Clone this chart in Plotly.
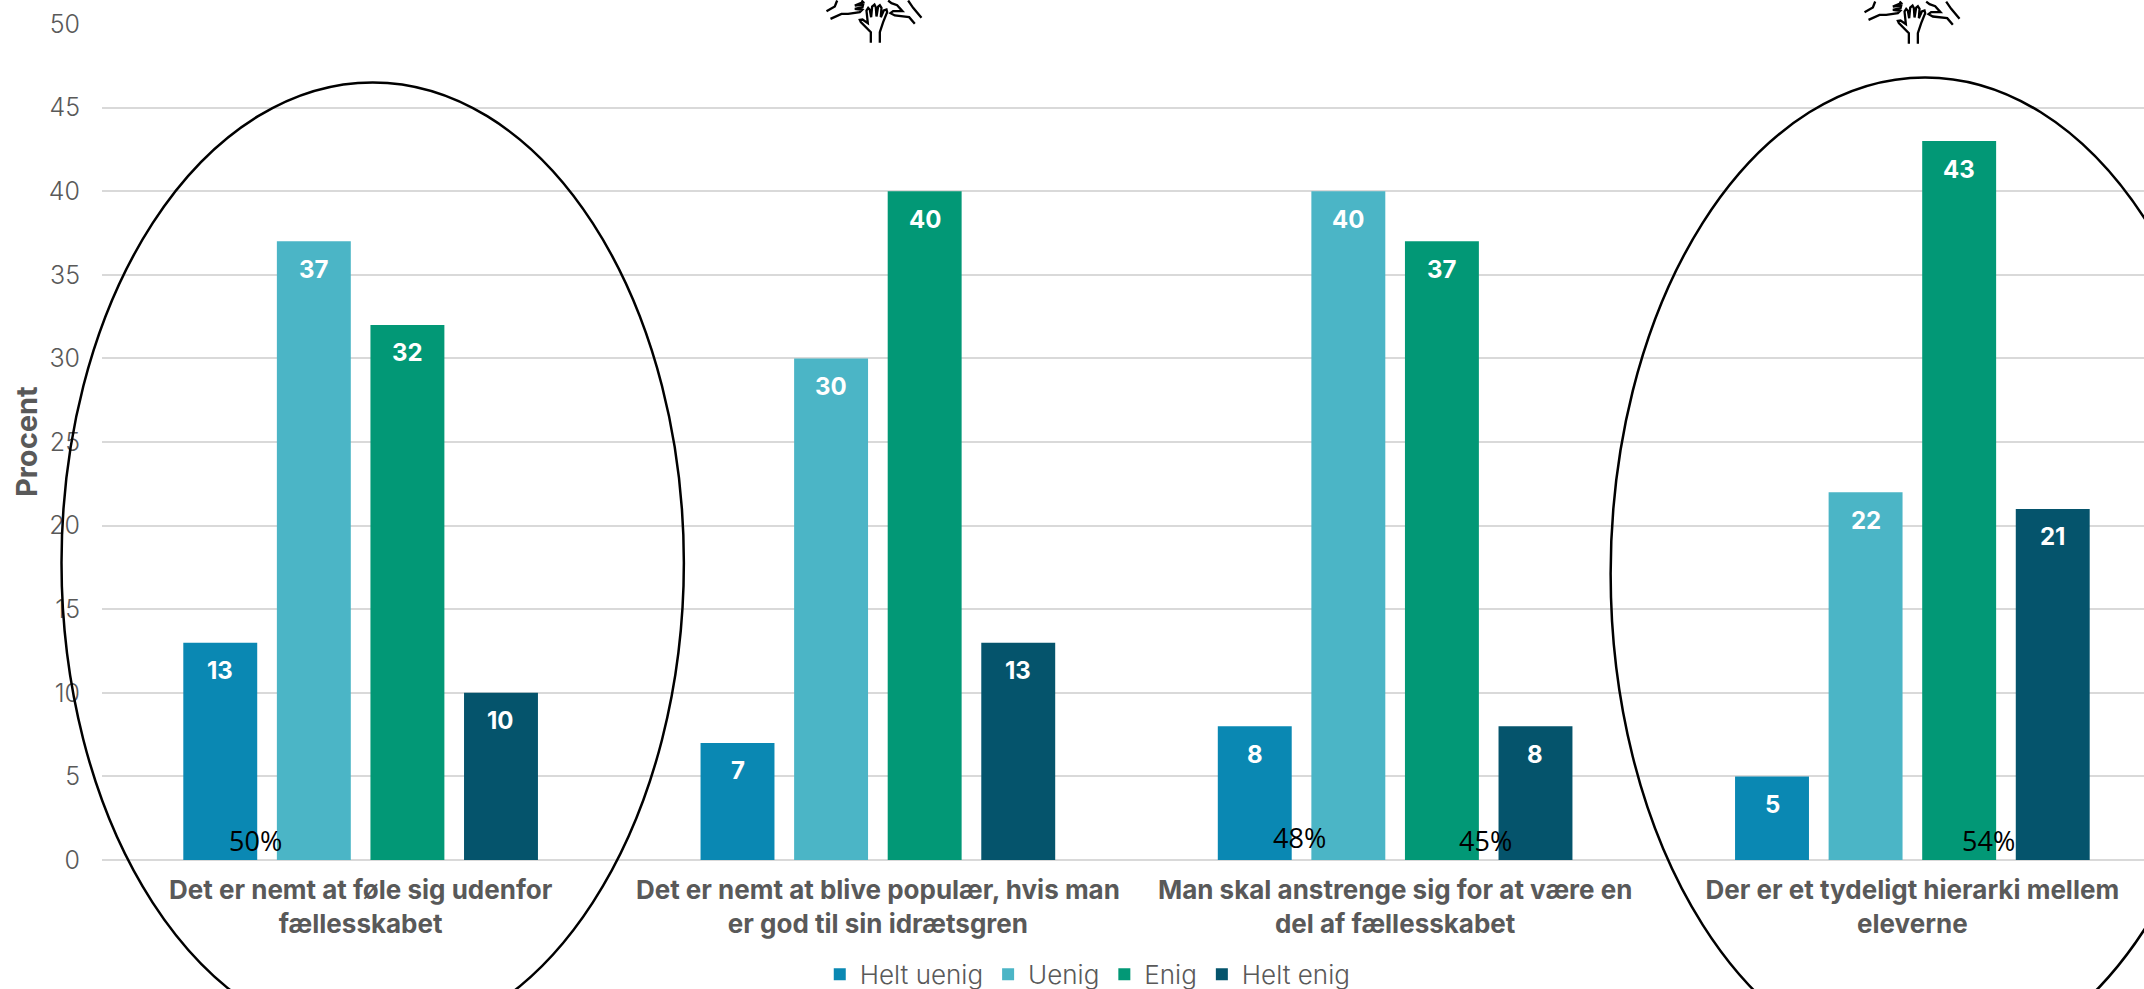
import plotly.graph_objects as go

categories = [
    "Det er nemt at føle sig udenfor<br>fællesskabet",
    "Det er nemt at blive populær, hvis man<br>er god til sin idrætsgren",
    "Man skal anstrenge sig for at være en<br>del af fællesskabet",
    "Der er et tydeligt hierarki mellem<br>eleverne",
]
helt_uenig = [13, 7, 8, 5]
uenig = [37, 30, 40, 22]
enig = [32, 40, 37, 43]
helt_enig = [10, 13, 8, 21]
series_names = ["Helt uenig", "Uenig", "Enig", "Helt enig"]
series_colors = ["#0A88B3", "#4BB5C6", "#029876", "#05546C"]
pct_labels = ["50%", "48%", "45%", "54%"]
pct_pos = [(256, 841), (1300, 838), (1486, 841), (1989, 841)]

# the plot runs past the right edge of the window, as in the reference;
# the extra height leaves room for the legend box below the window edge
W, H = 2172, 1015
L, R, T, B = 102, 2171.5, 23.5, 860.5
FONT = "Inter"
GREY = "#595959"


def px(x):
    return (x - L) / (R - L)


def py(y):
    return (B - y) / (B - T)


fig = go.Figure()
all_series = [helt_uenig, uenig, enig, helt_enig]
for name, vals, col in zip(series_names, all_series, series_colors):
    fig.add_bar(name=name, x=categories, y=vals, marker=dict(color=col, line_width=0))

shapes = []
annotations = []

# value labels, placed a fixed distance below each bar top
slot = 93.6 / ((R - L) / 4)
for j, vals in enumerate(all_series):
    for i, v in enumerate(vals):
        annotations.append(dict(
            x=i + (j - 1.5) * slot, y=v, xref="x", yref="y", text=f"<b>{v}</b>",
            showarrow=False, yshift=-28,
            font=dict(family=FONT, size=24, color="white"),
        ))

for t, (x, y) in zip(pct_labels, pct_pos):
    annotations.append(dict(
        x=px(x), y=py(y), xref="paper", yref="paper", text=t, showarrow=False,
        xanchor="center", yanchor="middle",
        font=dict(family="Open Sans", size=27, color="black"),
    ))

annotations.append(dict(
    x=px(26), y=py(442), xref="paper", yref="paper", text="<b>Procent</b>",
    textangle=-90, showarrow=False, xanchor="center", yanchor="middle",
    font=dict(family=FONT, size=29, color=GREY),
))

# circled groups
for x0, x1, y0, y1 in [(61.5, 684, 82, 1044), (1611, 2240, 77, 1071)]:
    shapes.append(dict(
        type="circle", xref="paper", yref="paper",
        x0=px(x0), x1=px(x1), y0=py(y0), y1=py(y1),
        line=dict(color="black", width=2.5), layer="above",
    ))

# hands icon, outlines traced in pixels
hand_strokes = [
    [(273, 127), (273, 95), (243, 65), (240, 58), (248, 57), (264, 68), (260, 30), (265, 22),
     (270, 28), (274, 50), (277, 18), (284, 12), (288, 20), (290, 48), (295, 18), (300, 14),
     (305, 22), (303, 50), (312, 30), (320, 27), (322, 35), (310, 65), (300, 95), (300, 127)],
    [(140, 32), (165, 18), (172, 0)],
    [(152, 55), (185, 40), (205, 40), (240, 35), (247, 28), (225, 25), (248, 20), (250, 12),
     (225, 15), (250, 5), (245, 0)],
    [(425, 52), (400, 22), (385, 0)],
    [(405, 70), (388, 50), (345, 45), (332, 38), (340, 32), (368, 32), (352, 14), (335, 8), (325, 0)],
]
for dx, dy in [(780, 0), (1818.3, 1)]:
    for stroke in hand_strokes:
        pts = [(dx + a / 3, dy + b / 3) for a, b in stroke]
        path = "M" + " L".join(f"{px(a):.5f},{py(b):.5f}" for a, b in pts)
        shapes.append(dict(
            type="path", xref="paper", yref="paper", path=path,
            line=dict(color="black", width=2.3), layer="above",
        ))

fig.update_layout(
    width=W, height=H,
    margin=dict(l=L, r=W - R, t=T, b=H - B, pad=0, autoexpand=False),
    paper_bgcolor="white", plot_bgcolor="white",
    barmode="group", bargap=1 - 4 * slot, bargroupgap=0.21,
    font=dict(family=FONT, color=GREY),
    shapes=shapes, annotations=annotations,
    legend=dict(
        orientation="h", x=px(1088), xanchor="center", y=py(975), yanchor="middle",
        font=dict(family=FONT, size=26, color=GREY, weight=300),
        bgcolor="rgba(0,0,0,0)",
    ),
    xaxis=dict(
        type="category", range=[-0.5, 3.5], showgrid=False, showline=False, ticks="",
        tickfont=dict(family=FONT, size=26, color=GREY, weight=700), ticklabelstandoff=12,
        automargin=False,
    ),
    yaxis=dict(
        range=[0, 50], dtick=5, gridcolor="#D9D9D9", gridwidth=2, zeroline=True,
        zerolinecolor="#D9D9D9", zerolinewidth=2, showline=False, ticks="",
        tickfont=dict(family=FONT, size=25, color=GREY, weight=300), ticklabelstandoff=21,
        automargin=False,
    ),
)

fig.write_html(
    "out.html",
    config=dict(displayModeBar=False),
    post_script="document.body.style.margin='0';document.documentElement.style.overflow='hidden';",
)
